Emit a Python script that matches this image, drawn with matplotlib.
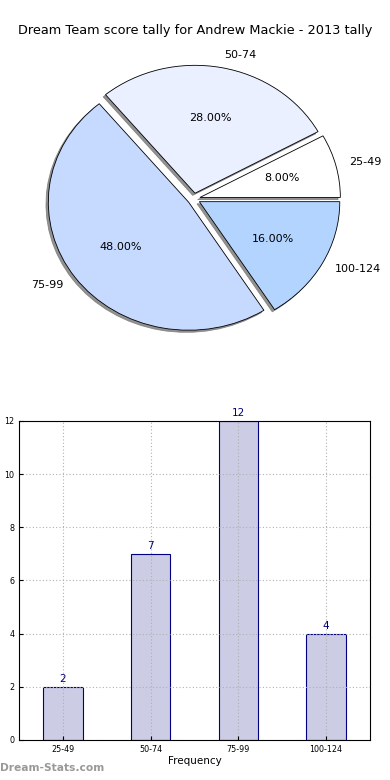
import matplotlib
matplotlib.use("Agg")
import matplotlib.pyplot as plt

ranges = ["25-49", "50-74", "75-99", "100-124"]
counts = [2, 7, 12, 4]
sliceColors = ["#ffffff", "#eaf0ff", "#c6d9ff", "#b3d4ff"]

fig = plt.figure(figsize=(3.9, 7.8), dpi=100)

# pie on top
axPie = fig.add_axes([0.047, 0.540, 0.9, 0.41])
axPie.pie(counts, labels=ranges, colors=sliceColors, explode=[0.045]*4,
          autopct="%.2f%%", shadow={"ox": -0.012, "oy": -0.012, "color": "#777777", "alpha": 0.8},
          startangle=0,
          wedgeprops={"edgecolor": "black", "linewidth": 0.6},
          textprops={"fontsize": 8})
axPie.set_aspect("auto")
fig.text(0.5, 1 - 30.5/780., "Dream Team score tally for Andrew Mackie - 2013 tally",
         ha="center", va="center", fontsize=9.3)

# bar chart below
axBar = fig.add_axes([0.0487, 0.0513, 0.9, 0.409])
xs = range(len(ranges))
bars = axBar.bar(xs, counts, width=0.45, color="#cccce4", edgecolor="#000080", linewidth=0.8)
for b, c in zip(bars, counts):
    axBar.text(b.get_x() + b.get_width()/2, c + 0.1, str(c), ha="center", va="bottom",
               color="#000080", fontsize=7.5)
axBar.set_xlim(-0.5, 3.5)
axBar.set_ylim(0, 12)
axBar.set_xticks(list(xs))
axBar.set_xticklabels(ranges)
axBar.set_yticks(range(0, 13, 2))
axBar.tick_params(labelsize=5.8, length=3, direction="in")
axBar.grid(True, linestyle=(0, (1, 2)), color="#b0b0b0", linewidth=0.8)
axBar.set_axisbelow(False)
for s in axBar.spines.values():
    s.set_zorder(5)
axBar.set_xlabel("Frequency", fontsize=7.5, labelpad=1.5)
axBar.set_ylabel("Scores in range", fontsize=7.5)
axBar.yaxis.set_label_coords(-0.06, 0.5)

fig.text(0.0, 0.012, "Dream-Stats.com", color="#999999", fontsize=7.7, fontweight="bold")

fig.savefig("out.png", dpi=100)
